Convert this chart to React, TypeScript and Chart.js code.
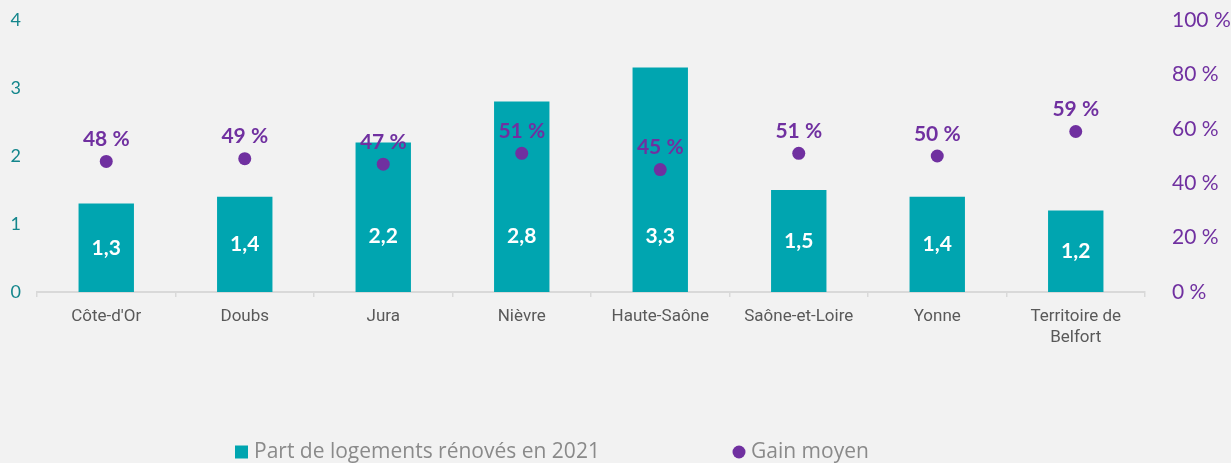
import React, { useEffect, useRef } from "react";
import { Chart, registerables } from "chart.js";

Chart.register(...registerables);

const categories: (string | string[])[] = [
  "Côte-d'Or",
  "Doubs",
  "Jura",
  "Nièvre",
  "Haute-Saône",
  "Saône-et-Loire",
  "Yonne",
  ["Territoire de", "Belfort"],
];
const partRenoves = [1.3, 1.4, 2.2, 2.8, 3.3, 1.5, 1.4, 1.2];
const gainMoyen = [48, 49, 47, 51, 45, 51, 50, 59];
const leftTicks = [0, 1, 2, 3, 4];
const rightTicks = [0, 20, 40, 60, 80, 100];

const TEAL = "#00A5B0";
const PURPLE = "#7030A0";

const labelsPlugin = {
  id: "valueLabels",
  afterDatasetsDraw(chart: any) {
    const ctx = chart.ctx;
    ctx.save();
    ctx.textAlign = "center";
    ctx.textBaseline = "middle";
    const bars = chart.getDatasetMeta(0).data;
    ctx.font = "bold 21px Lato";
    ctx.fillStyle = "#ffffff";
    bars.forEach((el: any, i: number) => {
      const y = Math.max((el.y + el.base) / 2, el.base - 56);
      ctx.fillText(String(partRenoves[i]).replace(".", ","), el.x, y);
    });
    const pts = chart.getDatasetMeta(1).data;
    ctx.fillStyle = PURPLE;
    pts.forEach((el: any, i: number) => {
      ctx.fillText(gainMoyen[i] + "\u00a0%", el.x, el.y - 22);
    });
    ctx.restore();
  },
};

const legendPlugin = {
  id: "customLegend",
  afterDraw(chart: any) {
    const ctx = chart.ctx;
    ctx.save();
    const y = 452;
    ctx.fillStyle = TEAL;
    ctx.fillRect(235, y - 6.5, 13, 13);
    ctx.fillStyle = PURPLE;
    ctx.beginPath();
    ctx.arc(739, y, 6.5, 0, Math.PI * 2);
    ctx.fill();
    ctx.fillStyle = "#8a8a8a";
    ctx.font = "21px 'Open Sans'";
    ctx.textBaseline = "middle";
    ctx.textAlign = "left";
    ctx.fillText("Part de logements rénovés en 2021", 254, y);
    ctx.fillText("Gain moyen", 751, y);
    ctx.restore();
  },
};

const bgPlugin = {
  id: "bg",
  beforeDraw(chart: any) {
    const ctx = chart.ctx;
    ctx.save();
    ctx.fillStyle = "#F2F2F2";
    ctx.fillRect(0, 0, chart.width, chart.height);
    ctx.restore();
  },
};

export default function App() {
  const ref = useRef<HTMLCanvasElement | null>(null);
  useEffect(() => {
    document.body.style.margin = "0";
    document.body.style.background = "#F2F2F2";
    if (!ref.current) return;
    const chart = new Chart(ref.current, {
      data: {
        labels: categories,
        datasets: [
          {
            type: "bar",
            label: "Part de logements rénovés en 2021",
            data: partRenoves,
            backgroundColor: TEAL,
            yAxisID: "y",
            barPercentage: 0.4,
            categoryPercentage: 1,
            order: 2,
          },
          {
            type: "line",
            label: "Gain moyen",
            data: gainMoyen,
            showLine: false,
            pointRadius: 6.5,
            pointBackgroundColor: PURPLE,
            pointBorderWidth: 0,
            borderColor: PURPLE,
            yAxisID: "y1",
            order: 1,
          },
        ],
      } as any,
      options: {
        animation: false,
        responsive: true,
        maintainAspectRatio: false,
        layout: { padding: { top: 20, bottom: 0, left: 0, right: 0 } },
        plugins: {
          legend: { display: false },
          tooltip: { enabled: false },
        },
        scales: {
          x: {
            offset: true,
            afterFit(scale: any) {
              scale.height = 463 - 292;
              scale.paddingLeft = 0;
              scale.paddingRight = 0;
            },
            grid: {
              offset: true,
              drawOnChartArea: false,
              drawTicks: true,
              tickLength: 5,
              color: "#D9D9D9",
              lineWidth: 1.5,
            },
            border: { display: true, color: "#D9D9D9", width: 2 },
            ticks: {
              color: "#595959",
              font: { family: "Roboto", size: 17 },
              padding: 10,
              maxRotation: 0,
              autoSkip: false,
            },
          },
          y: {
            position: "left",
            min: 0,
            max: 4,
            afterFit(scale: any) {
              scale.width = 37;
              scale.paddingTop = 0;
              scale.paddingBottom = 0;
            },
            afterBuildTicks(scale: any) {
              scale.ticks = leftTicks.map((v) => ({ value: v }));
            },
            grid: { display: false, drawTicks: false },
            border: { display: false },
            ticks: {
              color: "#14868C",
              font: { family: "Lato", size: 18 },
              padding: 16,
            },
          },
          y1: {
            position: "right",
            min: 0,
            max: 100,
            afterFit(scale: any) {
              scale.width = 1231 - 1145;
              scale.paddingTop = 0;
              scale.paddingBottom = 0;
            },
            afterBuildTicks(scale: any) {
              scale.ticks = rightTicks.map((v) => ({ value: v }));
            },
            grid: { display: false, drawTicks: false },
            border: { display: false },
            ticks: {
              color: PURPLE,
              font: { family: "Lato", size: 21 },
              padding: 27,
              callback: (v: any) => v + "\u00a0%",
            },
          },
        },
      } as any,
      plugins: [bgPlugin, labelsPlugin, legendPlugin],
    });
    return () => chart.destroy();
  }, []);
  return (
    <div style={{ width: 1231, height: 463, position: "relative", background: "#F2F2F2" }}>
      <canvas ref={ref} />
    </div>
  );
}
